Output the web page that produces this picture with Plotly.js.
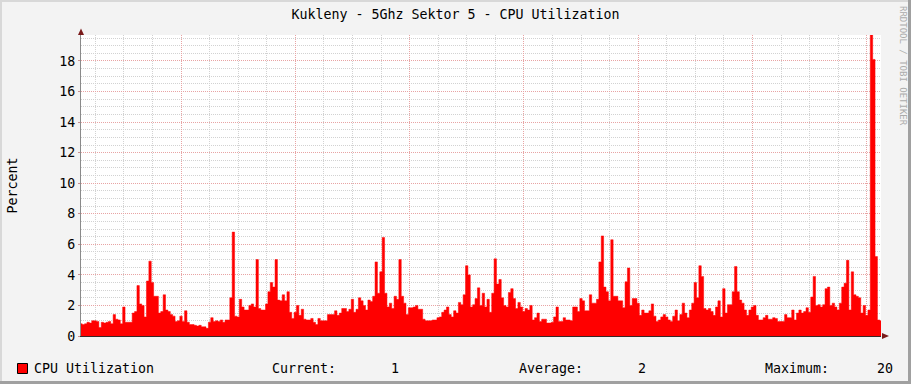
<!DOCTYPE html>
<html>
<head>
<meta charset="utf-8">
<script src="https://cdn.plot.ly/plotly-3.0.1.min.js"></script>
<style>html,body{margin:0;padding:0;background:#F3F3F3;}</style>
</head>
<body>
<div id="chart" style="width:911px;height:384px;"></div>
<script>
// ---- data ----
const chartTitle = 'Kukleny - 5Ghz Sektor 5 - CPU Utilization';
const seriesName = 'CPU Utilization';
const yTitle = 'Percent';
const dayLabels = ['Mon', 'Tue', 'Wed', 'Thu', 'Fri', 'Sat', 'Sun'];
const firstHour = 3;          // first sample: Monday 03:00
const lastHour = 171;         // last sample: next Monday 03:00
const stepHours = 0.5;        // 30-minute samples
// CPU utilization (%), every 30 minutes, Mon 03:00 .. Mon 03:00
const cpuMon = [
  0.8, 0.75, 0.8, 0.9, 0.85, 1.0, 1.0, 0.95, 0.55, 0.9,
  0.85, 0.9, 0.95, 0.8, 1.4, 1.1, 1.05, 0.8, 1.9, 0.9,
  0.9, 0.9, 1.5, 1.6, 3.3, 2.1, 2.0, 1.25, 3.6, 4.9,
  3.5, 2.6, 2.6, 1.5, 1.6, 2.7, 1.7, 1.6, 1.4, 1.3,
  0.95, 1.0, 1.3, 0.95, 1.65, 0.9, 0.75, 0.75, 0.7, 0.65,
  0.7, 0.6, 0.6, 0.5, 0.9, 1.2, 0.95, 1.0, 0.95, 1.05,
  0.9, 1.05, 1.05, 2.5, 6.8, 1.3, 1.25, 2.4
];
const cpuTueWed = [
  1.9, 1.7, 1.7, 2.0, 2.1, 1.9, 5.0, 1.8, 1.7, 1.7,
  2.1, 2.9, 3.5, 3.2, 5.0, 2.35, 2.3, 2.7, 2.3, 2.9,
  1.55, 1.15, 1.55, 2.0, 1.35, 1.75, 1.1, 1.05, 1.05, 1.15,
  0.9, 0.75, 1.15, 1.0, 1.0, 1.0, 1.4, 1.4, 1.4, 1.65,
  1.35, 1.5, 1.8, 1.8, 1.6, 1.75, 2.4, 1.55, 1.75, 2.5,
  2.3, 2.0, 1.7, 2.35, 2.25, 2.6, 4.85, 2.8, 4.2, 6.45,
  2.8, 1.9, 2.15, 1.8, 2.6, 2.4, 5.0
];
const cpuWedThu = [
  2.6, 2.15, 1.4, 1.85, 1.85, 1.9, 2.0, 1.75, 1.75, 1.1,
  1.0, 1.0, 1.0, 1.05, 1.05, 1.2, 1.25, 1.55, 1.7, 1.9,
  1.4, 1.25, 1.65, 1.5, 2.2, 2.05, 2.7, 4.6, 4.0, 1.9,
  2.05, 2.45, 3.15, 2.0, 2.8, 1.9, 2.4, 1.55, 2.8, 5.05,
  3.4, 3.7, 2.5, 2.0, 1.9, 2.85, 3.1, 2.45, 1.8, 2.2,
  1.9, 1.6, 1.8, 1.7, 2.0, 1.05, 1.2, 1.5, 0.95, 1.1,
  1.1, 0.85, 0.85, 0.9, 1.25, 1.9, 0.95
];
const cpuThuSat = [
  0.95, 1.2, 1.05, 1.05, 1.0, 1.9, 1.9, 1.6, 2.45, 2.3,
  1.65, 1.65, 2.7, 2.15, 2.15, 2.4, 4.85, 6.55, 3.2, 2.9,
  2.3, 6.3, 2.6, 2.6, 2.3, 2.3, 1.85, 3.55, 4.45, 2.0,
  2.45, 2.45, 2.15, 1.35, 1.7, 1.5, 1.5, 1.65, 2.1, 1.3,
  0.95, 1.05, 1.25, 1.4, 1.25, 1.05, 0.95, 1.3, 1.7, 1.0,
  1.4, 2.15, 1.5, 1.2, 1.7, 2.15, 3.5, 2.5, 4.6, 3.9,
  1.8, 1.7, 1.8, 1.6, 1.35, 1.9, 2.3
];
const cpuSatMon = [
  1.25, 3.1, 1.5, 2.05, 2.05, 2.9, 4.55, 2.9, 2.35, 2.15,
  1.7, 1.35, 1.7, 1.9, 2.0, 1.35, 1.05, 1.05, 1.2, 1.35,
  1.1, 1.1, 1.2, 1.15, 0.95, 0.95, 0.95, 1.4, 1.2, 1.2,
  1.7, 1.05, 1.5, 1.7, 1.5, 1.6, 1.85, 1.55, 2.55, 3.9,
  2.0, 2.05, 1.9, 2.05, 3.1, 3.2, 2.0, 2.15, 1.9, 1.7,
  2.15, 3.2, 3.45, 4.95, 1.7, 4.2, 2.7, 2.6, 2.5, 1.5,
  2.0, 1.35, 1.7, 19.7, 18.1, 5.2, 1.05, 1.0
];
const cpu = [].concat(cpuMon, cpuTueWed, cpuWedThu, cpuThuSat, cpuSatMon);

// ---- time helpers ----
const HOUR = 3600000;
const base = Date.UTC(2024, 0, 1); // a Monday, 00:00
const t = h => base + h * HOUR;
const times = cpu.map((_, i) => t(firstHour + i * stepHours));
const labelTimes = dayLabels.map((_, i) => t(i * 24 + 12));

const current = cpu[cpu.length - 1];
const average = cpu.reduce((a, b) => a + b, 0) / cpu.length;
const maximum = Math.max(...cpu);

// ---- layout helpers (pixel -> paper) ----
const L = 81, R = 30, T = 35, B = 48, W = 911, H = 384;
const PW = W - L - R, PH = H - T - B;
const px = x => (x - L) / PW;
const py = y => (H - B - y) / PH;

const FONT = 'DejaVu Sans Mono';
const fs = 13.3;
const majorGrid = '#E8A4A4';
const minorGrid = '#D2D2D2';
const dash = '1px,1px';

const trace = {
  type: 'scatter', mode: 'lines',
  x: times, y: cpu,
  fill: 'tozeroy', fillcolor: '#FF0000',
  line: {color: '#FF0000', width: 0.5, shape: 'hvh'},
  hoverinfo: 'skip', showlegend: false
};

const txt = (text, x, y, anchor) => ({
  text: text, xref: 'paper', yref: 'paper', x: px(x), y: py(y), showarrow: false,
  xanchor: anchor, yanchor: 'middle', font: {family: FONT, size: fs, color: '#000'}
});

const layout = {
  width: W, height: H,
  margin: {l: L, r: R, t: T, b: B, pad: 0},
  paper_bgcolor: '#F3F3F3',
  plot_bgcolor: '#FFFFFF',
  showlegend: false,
  font: {family: FONT, size: fs, color: '#000'},
  title: {
    text: chartTitle, font: {family: FONT, size: fs, color: '#000'},
    x: 0.5, xref: 'container', xanchor: 'center',
    y: 1 - 14 / H, yref: 'container', yanchor: 'middle'
  },
  xaxis: {
    type: 'date', range: [t(firstHour), t(lastHour)],
    tick0: t(0), dtick: 24 * HOUR,
    showticklabels: false, ticks: '',
    showgrid: true, gridcolor: majorGrid, griddash: dash, gridwidth: 1,
    minor: {tick0: t(0), dtick: 6 * HOUR, showgrid: true, gridcolor: minorGrid, griddash: dash, gridwidth: 1, ticks: ''},
    showline: true, linecolor: '#3A2626', linewidth: 1,
    zeroline: false, fixedrange: true
  },
  xaxis2: {
    type: 'date', overlaying: 'x', anchor: 'y', side: 'bottom',
    range: [t(firstHour), t(lastHour)],
    tickmode: 'array', tickvals: labelTimes, ticktext: dayLabels,
    showgrid: false, ticks: '', showline: false, zeroline: false,
    tickfont: {family: FONT, size: fs, color: '#000'}
  },
  yaxis: {
    range: [0, 19.7], tick0: 0, dtick: 2,
    showgrid: true, gridcolor: majorGrid, griddash: dash, gridwidth: 1,
    minor: {dtick: 0.5, showgrid: true, gridcolor: minorGrid, griddash: dash, gridwidth: 1},
    showline: true, linecolor: '#8A8A8A', linewidth: 1,
    zeroline: false, ticks: 'outside', ticklen: 2, tickcolor: '#C89090',
    tickfont: {family: FONT, size: fs, color: '#000'},
    fixedrange: true
  },
  annotations: [
    {text: yTitle, xref: 'paper', yref: 'paper', x: px(12), y: 0.5, textangle: -90,
     showarrow: false, xanchor: 'center', yanchor: 'middle', font: {family: FONT, size: fs}},
    {text: 'RRDTOOL / TOBI OETIKER', xref: 'paper', yref: 'paper', x: px(903), y: py(66), textangle: 90,
     showarrow: false, xanchor: 'center', yanchor: 'middle', font: {family: FONT, size: 9, color: '#ABABAB'}},
    txt(seriesName, 32, 368, 'left'),
    txt('Current:', 270, 368, 'left'),
    txt(current.toFixed(0), 401, 368, 'right'),
    txt('Average:', 517, 368, 'left'),
    txt(average.toFixed(0), 648, 368, 'right'),
    txt('Maximum:', 763, 368, 'left'),
    txt(maximum.toFixed(0), 895, 368, 'right')
  ],
  shapes: [
    // legend key
    {type: 'rect', xref: 'paper', yref: 'paper', x0: px(17.5), x1: px(27.5), y0: py(373.5), y1: py(363.5),
     fillcolor: '#FF0000', line: {color: '#000', width: 1}},
    // axis arrows
    {type: 'path', xref: 'paper', yref: 'paper',
     path: `M ${px(78)} ${py(35)} L ${px(84)} ${py(35)} L ${px(81)} ${py(28.5)} Z`,
     fillcolor: '#7A1A1A', line: {width: 0}},
    {type: 'path', xref: 'paper', yref: 'paper',
     path: `M ${px(882)} ${py(333)} L ${px(882)} ${py(339)} L ${px(889)} ${py(336)} Z`,
     fillcolor: '#7A1A1A', line: {width: 0}},
    // frame shading
    {type: 'rect', xref: 'paper', yref: 'paper', x0: px(0), x1: px(911), y0: py(2), y1: py(0),
     fillcolor: '#D8D8D8', line: {width: 0}, layer: 'below'},
    {type: 'rect', xref: 'paper', yref: 'paper', x0: px(0), x1: px(2), y0: py(384), y1: py(0),
     fillcolor: '#D8D8D8', line: {width: 0}, layer: 'below'},
    {type: 'rect', xref: 'paper', yref: 'paper', x0: px(908), x1: px(911), y0: py(384), y1: py(0),
     fillcolor: '#A0A0A0', line: {width: 0}},
    {type: 'rect', xref: 'paper', yref: 'paper', x0: px(0), x1: px(911), y0: py(384), y1: py(381),
     fillcolor: '#A0A0A0', line: {width: 0}}
  ]
};

Plotly.newPlot('chart', [trace], layout, {displayModeBar: false, staticPlot: true});
</script>
</body>
</html>
